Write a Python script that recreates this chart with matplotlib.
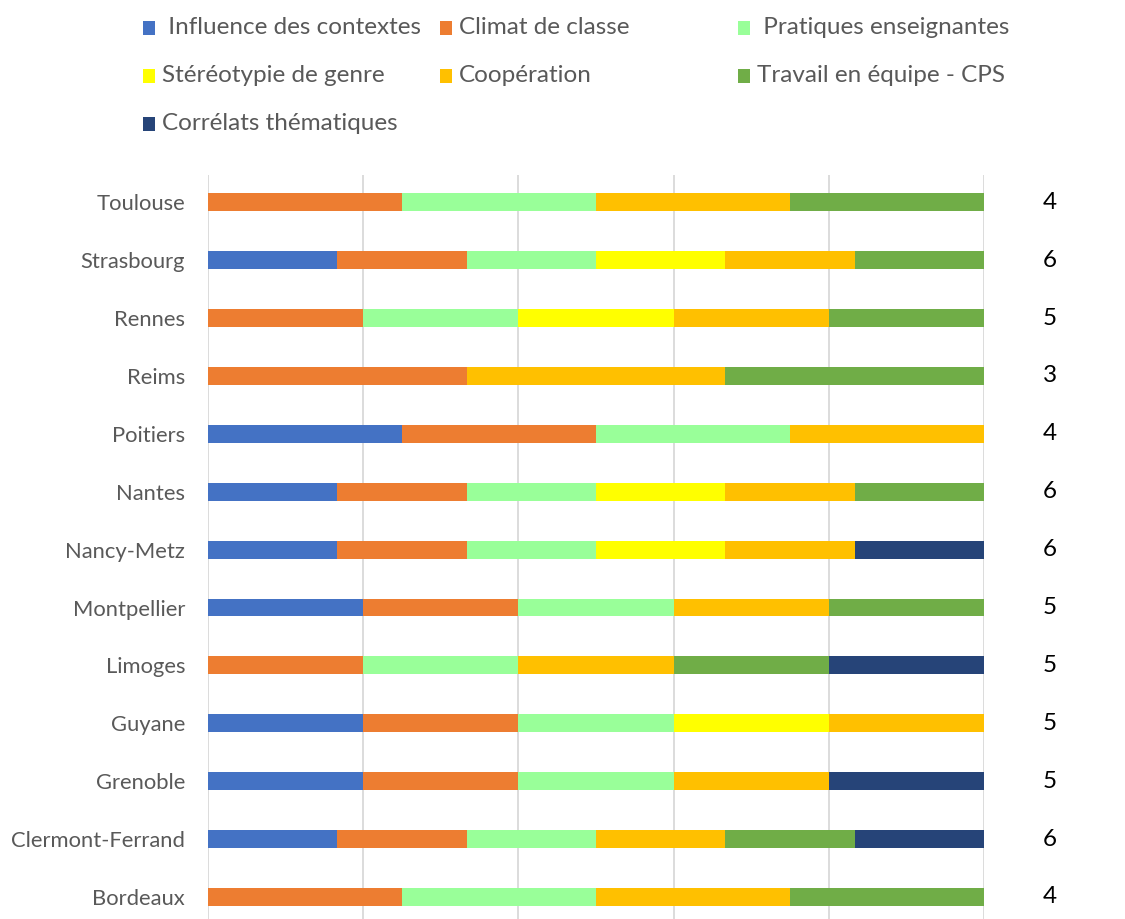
import matplotlib
matplotlib.use("Agg")
import matplotlib.pyplot as plt
from matplotlib.patches import Rectangle
from matplotlib.transforms import blended_transform_factory
import numpy as np

plt.rcParams['font.family'] = ['Lato', 'DejaVu Sans']

# Categories, bottom to top
academies = ["Bordeaux", "Clermont-Ferrand", "Grenoble", "Guyane", "Limoges",
             "Montpellier", "Nancy-Metz", "Nantes", "Poitiers", "Reims",
             "Rennes", "Strasbourg", "Toulouse"]

series_names = [" Influence des contextes", "Climat de classe", " Pratiques enseignantes",
                "Stéréotypie de genre", "Coopération", "Travail en équipe - CPS",
                "Corrélats thématiques"]
series_colors = ["#4472C4", "#ED7D31", "#99FF99", "#FFFF00", "#FFC000", "#70AD47", "#264478"]

# Presence (1) / absence (0) of each theme per academy (bottom to top order)
influence   = [0, 1, 1, 1, 0, 1, 1, 1, 1, 0, 0, 1, 0]
climat      = [1, 1, 1, 1, 1, 1, 1, 1, 1, 1, 1, 1, 1]
pratiques   = [1, 1, 1, 1, 1, 1, 1, 1, 1, 0, 1, 1, 1]
stereotypie = [0, 0, 0, 1, 0, 0, 1, 1, 0, 0, 1, 1, 0]
cooperation = [1, 1, 1, 1, 1, 1, 1, 1, 1, 1, 1, 1, 1]
travail     = [1, 1, 0, 0, 1, 1, 0, 1, 0, 1, 1, 1, 1]
correlats   = [0, 1, 1, 0, 1, 0, 1, 0, 0, 0, 0, 0, 0]

data = np.array([influence, climat, pratiques, stereotypie, cooperation, travail, correlats], dtype=float)
counts = data.sum(axis=0)
shares = data / counts

fig = plt.figure(figsize=(11.25, 9.19), dpi=100)
W, H = 1125, 919
ax = fig.add_axes([208 / W, 0, 776 / W, 744 / H])

y = np.arange(len(academies))
left = np.zeros(len(academies))
for vals, col in zip(shares, series_colors):
    ax.barh(y, vals, left=left, height=0.31, color=col, edgecolor='none', zorder=3)
    left += vals

ax.set_xlim(0, 1)
ax.set_ylim(-0.38, 12.47)
ax.set_xticks(np.arange(0, 1.01, 0.2))
ax.xaxis.grid(True, color="#D9D9D9", linewidth=1.3, zorder=0)
ax.tick_params(axis='x', length=0, labelbottom=False)
ax.tick_params(axis='y', length=0, pad=16.5)
ax.set_yticks(y)
ax.set_yticklabels(academies, fontsize=15.8, color="#595959")
for s in ax.spines.values():
    s.set_visible(False)

trans = blended_transform_factory(fig.transFigure, ax.transData)
for yi, c in zip(y, counts):
    ax.text(1050 / W, yi, f"{int(c)}", transform=trans, ha='center', va='center',
            fontsize=17.5, color="black")

# Legend (manual layout, 3 columns)
col_x = [143, 440, 738]
row_y = [28, 76, 124]
for i, (name, col) in enumerate(zip(series_names, series_colors)):
    r, c = divmod(i, 3)
    mx, my = col_x[c], row_y[r]
    fig.patches.append(Rectangle(((mx) / W, 1 - (my + 7) / H), 12 / W, 14 / H,
                                 transform=fig.transFigure, facecolor=col, edgecolor='none'))
    fig.text((mx + 19) / W, 1 - my / H, name, ha='left', va='center',
             fontsize=17.5, color="#595959")

fig.savefig("out.png", dpi=100)
